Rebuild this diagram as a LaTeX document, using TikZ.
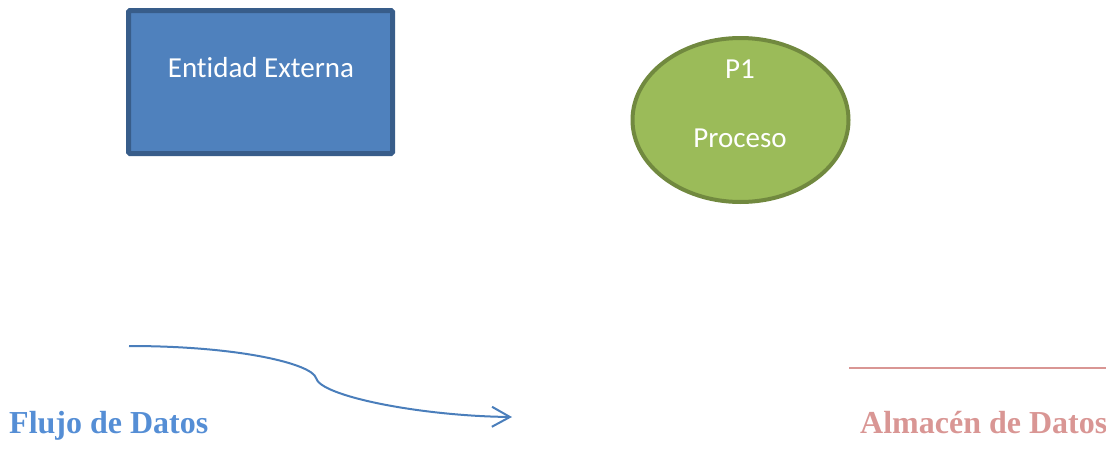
\documentclass[tikz,border=0pt]{standalone}
\usepackage{fontspec}
\setmainfont{Liberation Serif}
\newfontfamily\calib[Ligatures={NoCommon,NoRare}]{Carlito}
\usetikzlibrary{arrows.meta,shapes.geometric}
\definecolor{entfill}{HTML}{4F81BD}
\definecolor{entdraw}{HTML}{385D8A}
\definecolor{procfill}{HTML}{9BBB59}
\definecolor{procdraw}{HTML}{71893F}
\definecolor{flowcol}{HTML}{4A7EBB}
\definecolor{flowtext}{HTML}{558ED5}
\definecolor{storecol}{HTML}{D99694}
\tikzset{
  shapetext/.style={font=\calib\fontsize{29}{34}\selectfont, text=white, anchor=base, inner sep=0pt},
  legend/.style={font=\bfseries\fontsize{32}{38}\selectfont, anchor=base west, inner sep=0pt},
}
\begin{document}
\begin{tikzpicture}[x=1pt,y=-1pt]
\useasboundingbox (0,0) rectangle (1106,463);
% External entity
\draw[entdraw, fill=entfill, line width=5pt, rounded corners=1.5pt] (128.5,10.5) rectangle (392.5,153.5);
\node[shapetext] (ent) at (261,77) {Entidad Externa};
% Process
\node[ellipse, draw=procdraw, fill=procfill, line width=4pt, minimum width=216pt, minimum height=164pt, inner sep=0pt] (proc) at (740.5,120) {};
\node[shapetext] (p1) at (740,78) {P1};
\node[shapetext] (pname) at (740,147) {Proceso};
% Data flow
\coordinate (fs) at (129,346);
\coordinate (fm) at (316,378);
\coordinate (fe) at (512,417);
\draw[flowcol, line width=2pt, -{Straight Barb[length=18pt,width=20pt]}]
  (fs) .. controls (240,346) and (312,364) .. (fm)
       .. controls (320,396) and (420,416) .. (fe);
\node[legend, text=flowtext] (flow) at (9,433) {Flujo de Datos};
% Data store
\coordinate (ss) at (849,368);
\coordinate (se) at (1106,368);
\draw[storecol, line width=2pt] (ss) -- (se);
\node[legend, text=storecol] (store) at (860,433) {Almacén de Datos};
\end{tikzpicture}
\end{document}
